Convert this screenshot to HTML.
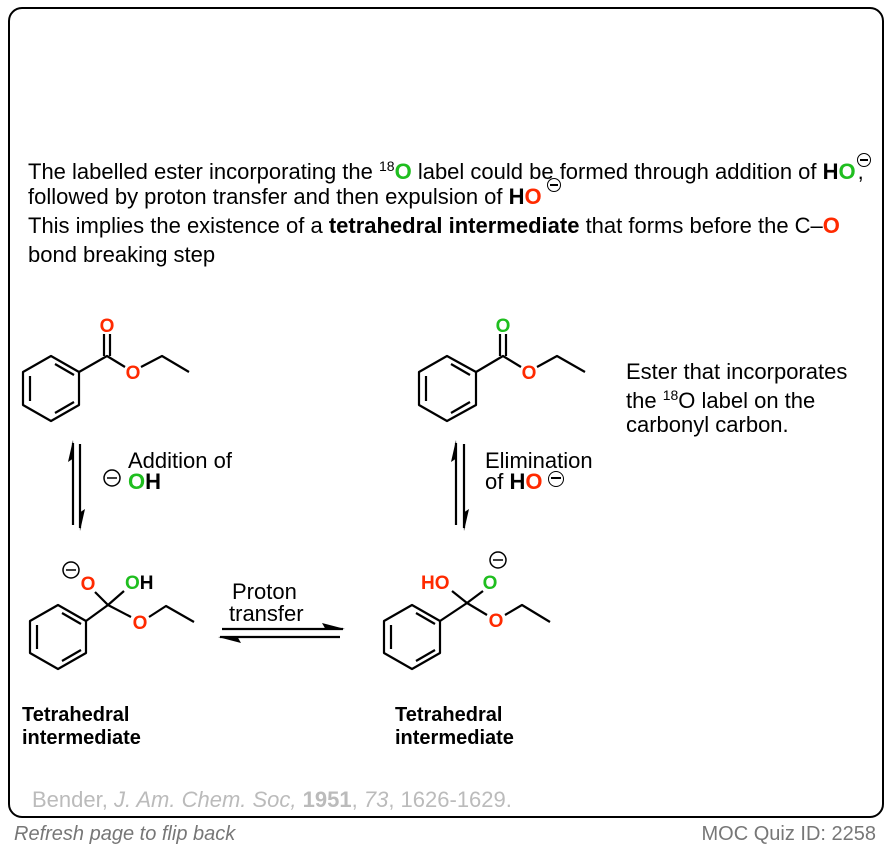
<!DOCTYPE html>
<html><head><meta charset="utf-8"><style>
body{margin:0;background:#fff;width:896px;height:850px;overflow:hidden;position:relative;font-family:"Liberation Sans",Arial,sans-serif;}
.box{position:absolute;left:8px;top:7px;width:872px;height:807px;border:2px solid #000;border-radius:14px;}
.t{position:absolute;font-size:22px;color:#000;white-space:nowrap;line-height:1}
.r{color:#ff2a00;font-weight:bold}
.g{color:#1fbe1f;font-weight:bold}
sup{font-size:14px;vertical-align:8px}
.m{display:inline-block;width:14px;height:14px;border:1.5px solid #000;border-radius:50%;position:relative;box-sizing:border-box;vertical-align:2px;margin-left:3px}
.m:after{content:"";position:absolute;left:2px;right:2px;top:5px;height:1.5px;background:#000}
.up{vertical-align:12px;margin-left:1px}
</style></head><body>
<div class="box"></div>
<div class="t" style="left:28px;top:153px">The labelled ester incorporating the <sup>18</sup><span class="g">O</span> label could be formed through addition of <b>H</b><span class="g">O</span><span class="m up"></span><span style="margin-left:-13px">,</span></div>
<div class="t" style="left:28px;top:178px">followed by proton transfer and then expulsion of <b>H</b><span class="r">O</span><span class="m up" style="margin-left:5px"></span></div>
<div class="t" style="left:28px;top:215px">This implies the existence of a <b>tetrahedral intermediate</b> that forms before the C–<span class="r">O</span></div>
<div class="t" style="left:28px;top:244px">bond breaking step</div>

<div class="t" style="left:128px;top:450px">Addition of</div>
<div class="t" style="left:128px;top:471px"><span class="g">O</span><b>H</b></div>
<div class="t" style="left:485px;top:450px">Elimination</div>
<div class="t" style="left:485px;top:471px">of <b>H</b><span class="r">O</span><span class="m" style="width:16px;height:16px;margin-left:6px"></span></div>
<div class="t" style="left:232px;top:581px">Proton</div>
<div class="t" style="left:229px;top:603px">transfer</div>
<div class="t" style="left:626px;top:361px">Ester that incorporates</div>
<div class="t" style="left:626px;top:388px">the <sup>18</sup>O label on the</div>
<div class="t" style="left:626px;top:414px">carbonyl carbon.</div>
<div class="t" style="left:22px;top:705px;font-weight:bold;font-size:20px">Tetrahedral</div>
<div class="t" style="left:22px;top:728px;font-weight:bold;font-size:20px">intermediate</div>
<div class="t" style="left:395px;top:705px;font-weight:bold;font-size:20px">Tetrahedral</div>
<div class="t" style="left:395px;top:728px;font-weight:bold;font-size:20px">intermediate</div>
<div class="t" style="left:32px;top:789px;color:#bbb">Bender, <i>J. Am. Chem. Soc,</i> <b>1951</b>, <i>73</i>, 1626-1629.</div>
<div class="t" style="left:14px;top:824px;color:#777;font-size:20px;font-style:italic">Refresh page to flip back</div>
<div class="t" style="right:20px;top:824px;color:#777;font-size:20px">MOC Quiz ID: 2258</div>

<svg width="896" height="850" style="position:absolute;left:0;top:0" font-family="Liberation Sans, Arial, sans-serif" font-weight="bold" font-size="19">
<g fill="none" stroke="#000" stroke-width="2.2" stroke-linejoin="round">
<circle cx="112" cy="478" r="8" stroke-width="1.5"/><line x1="107" y1="478" x2="117" y2="478" stroke-width="1.5"/>
<circle cx="71" cy="570" r="8" stroke-width="1.5"/><line x1="66" y1="570" x2="76" y2="570" stroke-width="1.5"/>
<circle cx="498" cy="560" r="8" stroke-width="1.5"/><line x1="493" y1="560" x2="503" y2="560" stroke-width="1.5"/>

<polygon points="51,356 79,372 79,405 51,421 23,405 23,372"/>
<line x1="30" y1="376" x2="30" y2="401"/><line x1="55" y1="364" x2="74" y2="375"/><line x1="55" y1="413" x2="74" y2="402"/>
<polyline points="79,372 107,356 125,367"/><line x1="104" y1="356" x2="104" y2="334"/><line x1="110" y1="356" x2="110" y2="334"/>
<polyline points="141,367 162,356 189,372"/>
<polygon points="447,356 476,372 476,405 447,421 419,405 419,372"/>
<line x1="426" y1="376" x2="426" y2="401"/><line x1="451" y1="364" x2="470" y2="375"/><line x1="451" y1="413" x2="470" y2="402"/>
<polyline points="476,372 503,356 521,367"/><line x1="500" y1="356" x2="500" y2="334"/><line x1="506" y1="356" x2="506" y2="334"/>
<polyline points="537,367 557,356 585,372"/>
<polygon points="58,605 86,621 86,653 58,669 30,653 30,621"/>
<line x1="37" y1="625" x2="37" y2="649"/><line x1="62" y1="613" x2="81" y2="624"/><line x1="62" y1="661" x2="81" y2="650"/>
<line x1="86" y1="621" x2="108" y2="605"/><line x1="108" y1="605" x2="95" y2="592"/><line x1="108" y1="605" x2="124" y2="591"/>
<line x1="108" y1="605" x2="131" y2="617"/><polyline points="149,617 166,606 194,622"/>
<polygon points="412,605 440,621 440,653 412,669 384,653 384,621"/>
<line x1="391" y1="625" x2="391" y2="649"/><line x1="416" y1="613" x2="435" y2="624"/><line x1="416" y1="661" x2="435" y2="650"/>
<line x1="440" y1="621" x2="467" y2="603"/><line x1="467" y1="603" x2="452" y2="591"/><line x1="467" y1="603" x2="483" y2="591"/>
<line x1="467" y1="603" x2="487" y2="615"/><polyline points="505,615 522,605 550,622"/>
<line x1="73" y1="443" x2="73" y2="525"/><line x1="80" y1="444" x2="80" y2="528"/>
<line x1="456" y1="443" x2="456" y2="525"/><line x1="464" y1="444" x2="464" y2="528"/>
<line x1="222" y1="629" x2="343" y2="629"/><line x1="220" y1="637" x2="340" y2="637"/>
</g>
<g fill="#000">
<polygon points="73,440 68,462 74,458"/><polygon points="80,531 85,509 79,513"/>
<polygon points="456,440 451,462 457,458"/><polygon points="464,531 469,509 463,513"/>
<polygon points="345,629 322,623 326,630"/><polygon points="218,637 241,643 237,636"/>
</g>
<g text-anchor="middle">
<text x="107" y="332" fill="#ff2a00">O</text>
<text x="133" y="379" fill="#ff2a00">O</text>
<text x="503" y="332" fill="#1fbe1f">O</text>
<text x="529" y="379" fill="#ff2a00">O</text>
<text x="88" y="590" fill="#ff2a00">O</text>
<text x="140" y="629" fill="#ff2a00">O</text>
<text x="496" y="627" fill="#ff2a00">O</text>
<text x="490" y="589" fill="#1fbe1f">O</text>
</g>
<text x="125" y="589" fill="#1fbe1f">O<tspan fill="#000">H</tspan></text>
<text x="421" y="589" fill="#ff2a00">HO</text>
</svg>
</body></html>
